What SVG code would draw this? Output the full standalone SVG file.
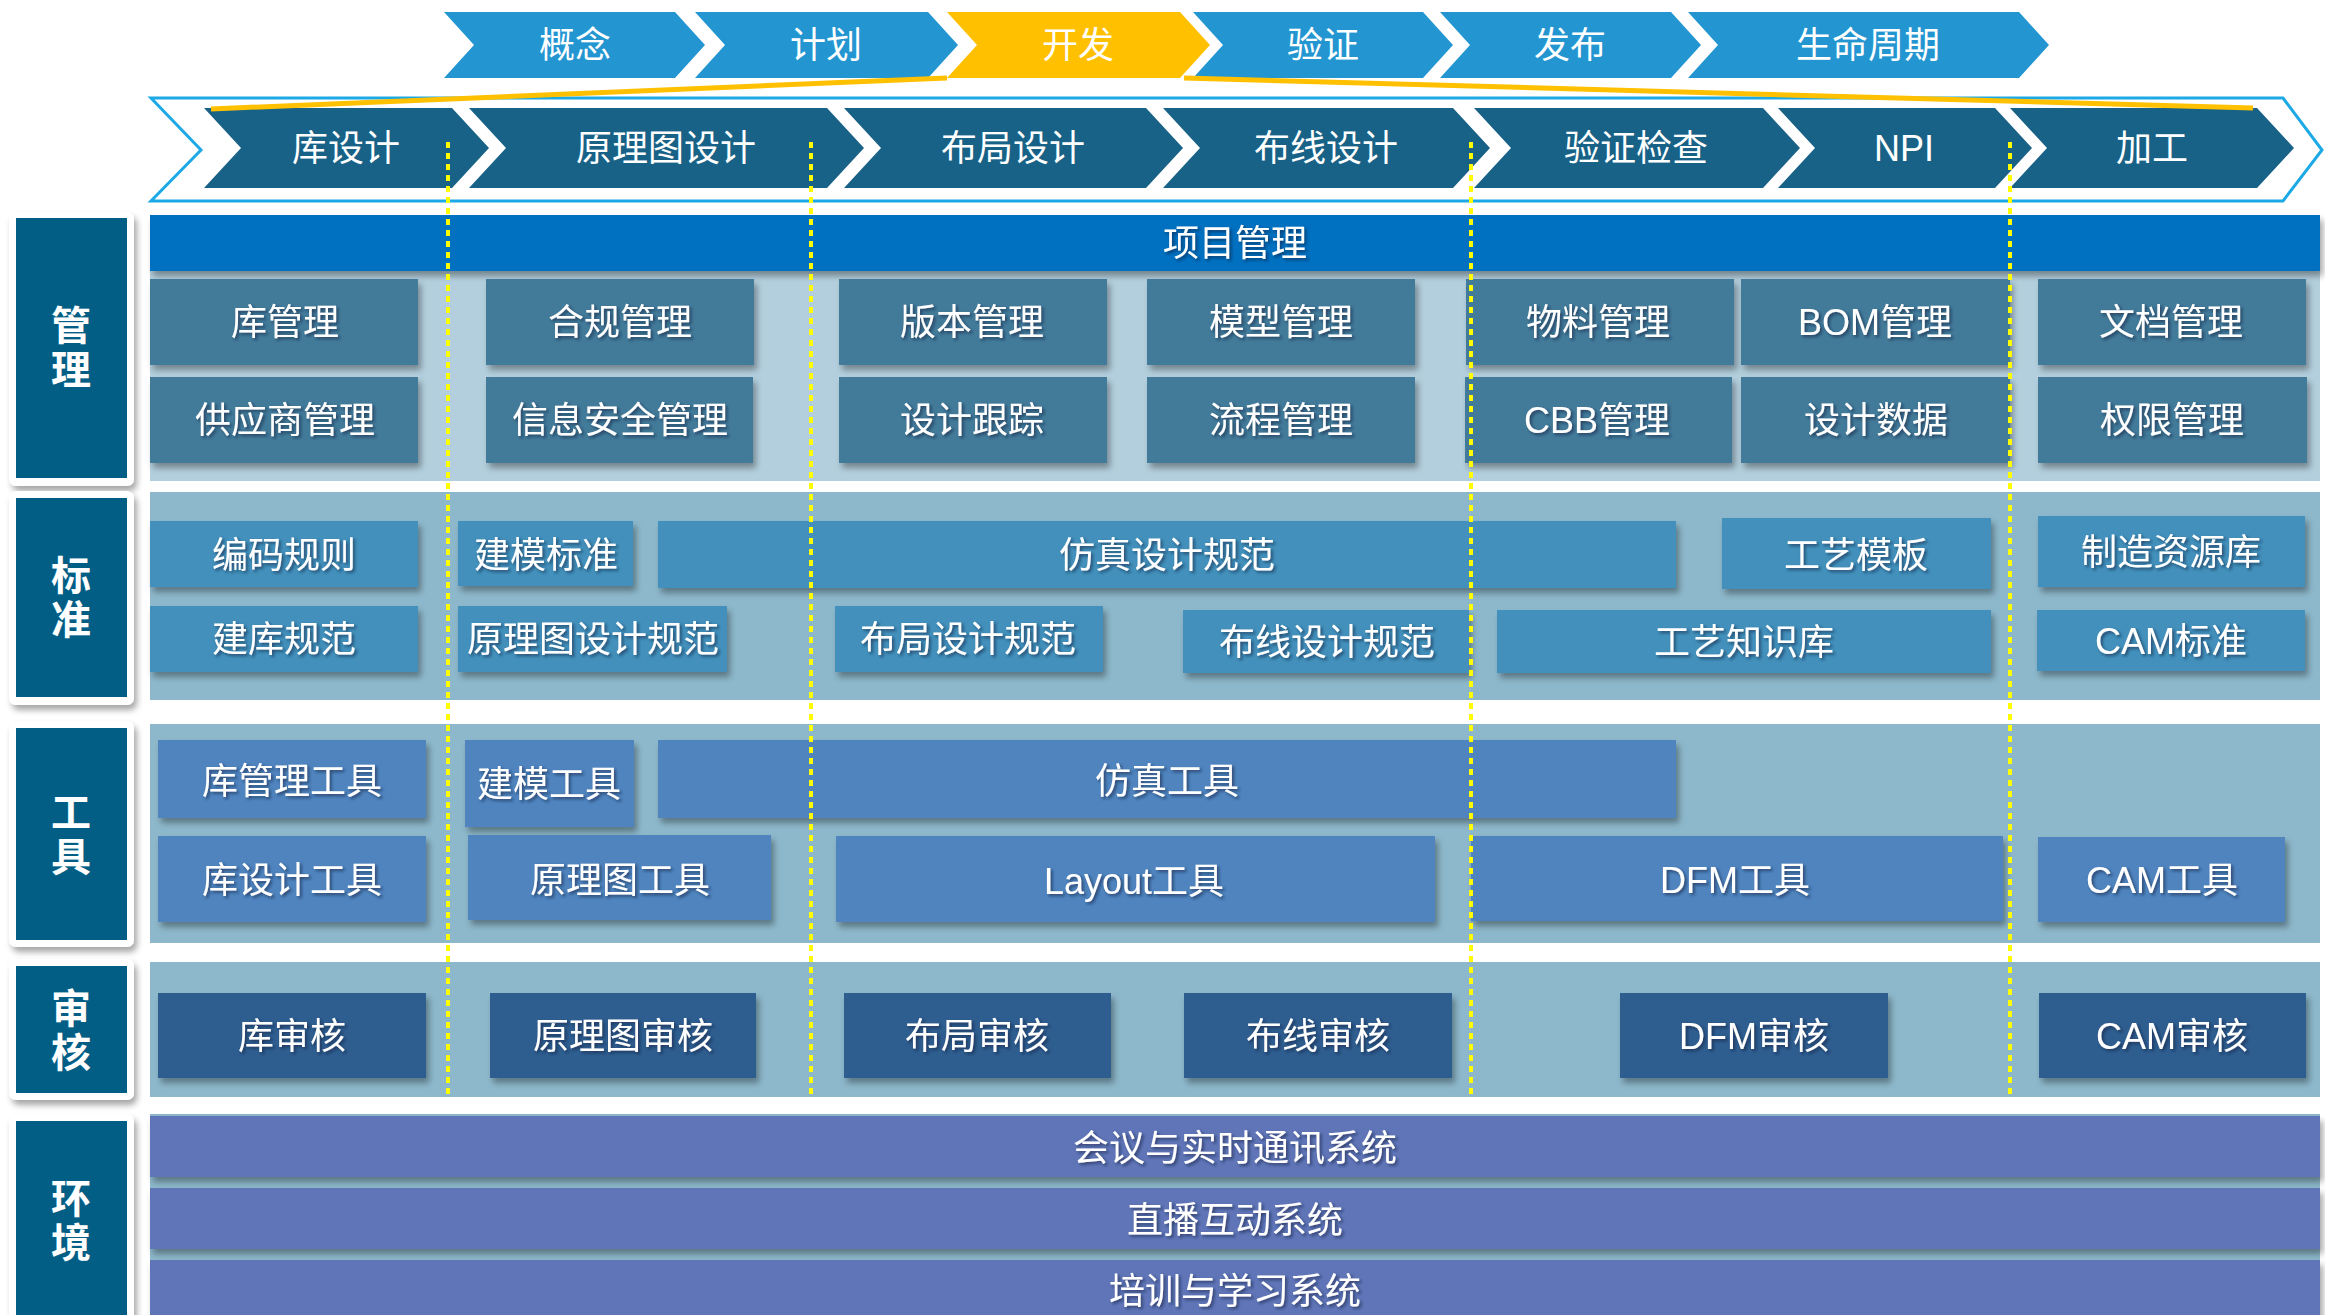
<svg xmlns="http://www.w3.org/2000/svg" width="2325" height="1315" viewBox="0 0 2325 1315">
<defs>
<style>
.t{font-family:"Liberation Sans","Noto Sans CJK SC",sans-serif;font-size:36px;fill:#fff;text-anchor:middle;dominant-baseline:central;filter:url(#ts)}
.tc{font-family:"Liberation Sans","Noto Sans CJK SC",sans-serif;font-size:36px;fill:#fff;text-anchor:middle;dominant-baseline:central}
.cat{font-family:"Noto Sans CJK SC",sans-serif;font-size:40px;font-weight:700;fill:#fff;text-anchor:middle;writing-mode:vertical-rl;letter-spacing:4px}
.ch1{fill:#2396D2}
.ch1y{fill:#FFC000}
.ch2{fill:#186287}
.catout{fill:#fff;filter:url(#sh)}
.catin{fill:#035E86}
.pl{fill:#B3CFDD}
.pm{fill:#8DB8CB}
.nm{fill:#427A99;filter:url(#sh)}
.ns{fill:#4290BB;filter:url(#sh)}
.nt{fill:#4F84BE;filter:url(#sh)}
.nr{fill:#2F5D8F;filter:url(#sh)}
.ne{fill:#5E75B7;filter:url(#sh)}
.sep{stroke:#FFFF00;stroke-width:4;stroke-dasharray:6 5;fill:none}
.yl{stroke:#FFC000;stroke-width:5;fill:none}
</style>
<filter id="sh" x="-5%" y="-10%" width="115%" height="140%">
<feDropShadow dx="3" dy="5" stdDeviation="3" flood-color="#000" flood-opacity="0.35"/>
</filter>
<filter id="ts" x="-10%" y="-20%" width="120%" height="150%">
<feDropShadow dx="2" dy="2" stdDeviation="1.5" flood-color="#10203a" flood-opacity="0.6"/>
</filter>
</defs>
<rect width="2325" height="1315" fill="#fff"/>

<!-- top phase chevrons -->
<g id="phase-gainian"><polygon class="ch1" points="444,12 675,12 705,45 675,78 444,78 474,45"/><text class="tc" x="575" y="45">概念</text></g>
<g id="phase-jihua"><polygon class="ch1" points="695,12 928,12 958,45 928,78 695,78 725,45"/><text class="tc" x="826" y="45">计划</text></g>
<g id="phase-kaifa"><polygon class="ch1y" points="947,12 1180,12 1210,45 1180,78 947,78 977,45"/><text class="tc" x="1078" y="45">开发</text></g>
<g id="phase-yanzheng"><polygon class="ch1" points="1193,12 1423,12 1453,45 1423,78 1193,78 1223,45"/><text class="tc" x="1323" y="45">验证</text></g>
<g id="phase-fabu"><polygon class="ch1" points="1440,12 1671,12 1701,45 1671,78 1440,78 1470,45"/><text class="tc" x="1570" y="45">发布</text></g>
<g id="phase-shengming"><polygon class="ch1" points="1688,12 2019,12 2049,45 2019,78 1688,78 1718,45"/><text class="tc" x="1868" y="45">生命周期</text></g>

<!-- development stage outline -->
<g id="dev-outline"><polygon points="151,98 2283,98 2322,150 2283,201 151,201 201,150" fill="#fff" stroke="#1CA9E6" stroke-width="3"/></g>

<!-- second row chevrons -->
<g id="step-kusheji"><polygon class="ch2" points="204,108 452,108 489,148 452,188 204,188 241,148"/><text class="tc" x="346" y="148">库设计</text></g>
<g id="step-yuanli"><polygon class="ch2" points="469,108 827,108 864,148 827,188 469,188 506,148"/><text class="tc" x="666" y="148">原理图设计</text></g>
<g id="step-buju"><polygon class="ch2" points="844,108 1146,108 1183,148 1146,188 844,188 881,148"/><text class="tc" x="1013" y="148">布局设计</text></g>
<g id="step-buxian"><polygon class="ch2" points="1163,108 1453,108 1490,148 1453,188 1163,188 1200,148"/><text class="tc" x="1326" y="148">布线设计</text></g>
<g id="step-yanzheng"><polygon class="ch2" points="1474,108 1763,108 1800,148 1763,188 1474,188 1511,148"/><text class="tc" x="1636" y="148">验证检查</text></g>
<g id="step-npi"><polygon class="ch2" points="1778,108 1995,108 2032,148 1995,188 1778,188 1815,148"/><text class="tc" x="1904" y="148">NPI</text></g>
<g id="step-jiagong"><polygon class="ch2" points="2010,108 2257,108 2294,148 2257,188 2010,188 2047,148"/><text class="tc" x="2152" y="148">加工</text></g>

<!-- category labels -->
<g id="cat-guanli"><rect class="catout" x="9" y="212" width="125" height="274" rx="7"/><rect class="catin" x="16" y="218" width="111" height="260"/><text class="cat" x="71" y="349">管理</text></g>
<g id="cat-biaozhun"><rect class="catout" x="9" y="491" width="125" height="214" rx="7"/><rect class="catin" x="16" y="498" width="111" height="199"/><text class="cat" x="71" y="599">标准</text></g>
<g id="cat-gongju"><rect class="catout" x="9" y="721" width="125" height="226" rx="7"/><rect class="catin" x="16" y="728" width="111" height="212"/><text class="cat" x="71" y="836">工具</text></g>
<g id="cat-shenhe"><rect class="catout" x="9" y="959" width="125" height="141" rx="7"/><rect class="catin" x="16" y="966" width="111" height="127"/><text class="cat" x="71" y="1032">审核</text></g>
<g id="cat-huanjing"><rect class="catout" x="9" y="1114" width="125" height="220" rx="7"/><rect class="catin" x="16" y="1121" width="111" height="210"/><text class="cat" x="71" y="1222">环境</text></g>

<!-- section panels -->
<rect class="pl" x="150" y="215" width="2170" height="266"/>
<rect class="pm" x="150" y="492" width="2170" height="208"/>
<rect class="pm" x="150" y="724" width="2170" height="219"/>
<rect class="pm" x="150" y="962" width="2170" height="135"/>
<rect class="pm" x="150" y="1114" width="2170" height="201"/>

<!-- management -->
<g id="xiangmu"><rect x="150" y="215" width="2170" height="56" fill="#0070C0" filter="url(#sh)"/><text class="t" x="1235" y="243">项目管理</text></g>
<g id="m-ku"><rect class="nm" x="150" y="279" width="268" height="86"/><text class="t" x="285" y="322">库管理</text></g>
<g id="m-hegui"><rect class="nm" x="486" y="279" width="268" height="86"/><text class="t" x="620" y="322">合规管理</text></g>
<g id="m-banben"><rect class="nm" x="839" y="279" width="268" height="86"/><text class="t" x="972" y="322">版本管理</text></g>
<g id="m-moxing"><rect class="nm" x="1147" y="279" width="268" height="86"/><text class="t" x="1281" y="322">模型管理</text></g>
<g id="m-wuliao"><rect class="nm" x="1466" y="279" width="268" height="86"/><text class="t" x="1598" y="322">物料管理</text></g>
<g id="m-bom"><rect class="nm" x="1741" y="279" width="269" height="86"/><text class="t" x="1875" y="322">BOM管理</text></g>
<g id="m-wendang"><rect class="nm" x="2038" y="279" width="268" height="86"/><text class="t" x="2171" y="322">文档管理</text></g>
<g id="m-gongying"><rect class="nm" x="150" y="377" width="268" height="86"/><text class="t" x="285" y="420">供应商管理</text></g>
<g id="m-xinxi"><rect class="nm" x="486" y="377" width="267" height="86"/><text class="t" x="620" y="420">信息安全管理</text></g>
<g id="m-genzong"><rect class="nm" x="839" y="377" width="268" height="86"/><text class="t" x="972" y="420">设计跟踪</text></g>
<g id="m-liucheng"><rect class="nm" x="1147" y="377" width="268" height="86"/><text class="t" x="1281" y="420">流程管理</text></g>
<g id="m-cbb"><rect class="nm" x="1465" y="377" width="267" height="86"/><text class="t" x="1597" y="420">CBB管理</text></g>
<g id="m-shuju"><rect class="nm" x="1741" y="377" width="269" height="86"/><text class="t" x="1876" y="420">设计数据</text></g>
<g id="m-quanxian"><rect class="nm" x="2038" y="377" width="269" height="86"/><text class="t" x="2172" y="420">权限管理</text></g>

<!-- standards -->
<g id="s-bianma"><rect class="ns" x="150" y="521" width="268" height="66"/><text class="t" x="284" y="555">编码规则</text></g>
<g id="s-jianmo"><rect class="ns" x="458" y="521" width="175" height="65"/><text class="t" x="546" y="555">建模标准</text></g>
<g id="s-fangzhen"><rect class="ns" x="658" y="521" width="1018" height="67"/><text class="t" x="1167" y="555">仿真设计规范</text></g>
<g id="s-gongyimb"><rect class="ns" x="1722" y="518" width="269" height="71"/><text class="t" x="1856" y="555">工艺模板</text></g>
<g id="s-zhizao"><rect class="ns" x="2038" y="516" width="267" height="71"/><text class="t" x="2171" y="552">制造资源库</text></g>
<g id="s-jianku"><rect class="ns" x="150" y="606" width="268" height="66"/><text class="t" x="284" y="639">建库规范</text></g>
<g id="s-yuanli"><rect class="ns" x="458" y="606" width="269" height="66"/><text class="t" x="593" y="639">原理图设计规范</text></g>
<g id="s-buju"><rect class="ns" x="835" y="606" width="268" height="66"/><text class="t" x="968" y="639">布局设计规范</text></g>
<g id="s-buxian"><rect class="ns" x="1183" y="610" width="286" height="63"/><text class="t" x="1327" y="642">布线设计规范</text></g>
<g id="s-gongyizs"><rect class="ns" x="1497" y="610" width="494" height="63"/><text class="t" x="1744" y="642">工艺知识库</text></g>
<g id="s-cam"><rect class="ns" x="2037" y="610" width="268" height="61"/><text class="t" x="2171" y="641">CAM标准</text></g>

<!-- tools -->
<g id="t-kuguanli"><rect class="nt" x="158" y="740" width="268" height="78"/><text class="t" x="292" y="781">库管理工具</text></g>
<g id="t-jianmo"><rect class="nt" x="465" y="740" width="169" height="87"/><text class="t" x="549" y="784">建模工具</text></g>
<g id="t-fangzhen"><rect class="nt" x="658" y="740" width="1018" height="78"/><text class="t" x="1167" y="781">仿真工具</text></g>
<g id="t-kusheji"><rect class="nt" x="158" y="836" width="268" height="86"/><text class="t" x="292" y="880">库设计工具</text></g>
<g id="t-yuanli"><rect class="nt" x="468" y="835" width="303" height="85"/><text class="t" x="620" y="880">原理图工具</text></g>
<g id="t-layout"><rect class="nt" x="836" y="836" width="599" height="86"/><text class="t" x="1134" y="881">Layout工具</text></g>
<g id="t-dfm"><rect class="nt" x="1471" y="836" width="532" height="85"/><text class="t" x="1735" y="880">DFM工具</text></g>
<g id="t-cam"><rect class="nt" x="2038" y="837" width="247" height="85"/><text class="t" x="2162" y="880">CAM工具</text></g>

<!-- review -->
<g id="r-ku"><rect class="nr" x="158" y="993" width="268" height="85"/><text class="t" x="292" y="1036">库审核</text></g>
<g id="r-yuanli"><rect class="nr" x="490" y="993" width="266" height="85"/><text class="t" x="623" y="1036">原理图审核</text></g>
<g id="r-buju"><rect class="nr" x="844" y="993" width="267" height="85"/><text class="t" x="977" y="1036">布局审核</text></g>
<g id="r-buxian"><rect class="nr" x="1184" y="993" width="268" height="85"/><text class="t" x="1318" y="1036">布线审核</text></g>
<g id="r-dfm"><rect class="nr" x="1620" y="993" width="268" height="85"/><text class="t" x="1754" y="1036">DFM审核</text></g>
<g id="r-cam"><rect class="nr" x="2039" y="993" width="267" height="85"/><text class="t" x="2172" y="1036">CAM审核</text></g>

<!-- environment -->
<g id="e-huiyi"><rect class="ne" x="150" y="1116" width="2170" height="61"/><text class="t" x="1235" y="1148">会议与实时通讯系统</text></g>
<g id="e-zhibo"><rect class="ne" x="150" y="1188" width="2170" height="61"/><text class="t" x="1235" y="1220">直播互动系统</text></g>
<g id="e-peixun"><rect class="ne" x="150" y="1260" width="2170" height="70"/><text class="t" x="1235" y="1291">培训与学习系统</text></g>

<!-- connectors -->
<g id="connectors">
<line class="yl" x1="947" y1="78" x2="211" y2="109"/>
<line class="yl" x1="1184" y1="78" x2="2253" y2="108"/>
<line class="sep" x1="448" y1="142" x2="448" y2="1095"/>
<line class="sep" x1="811" y1="142" x2="811" y2="1095"/>
<line class="sep" x1="1471" y1="142" x2="1471" y2="1095"/>
<line class="sep" x1="2010" y1="142" x2="2010" y2="1095"/>
</g>
</svg>
